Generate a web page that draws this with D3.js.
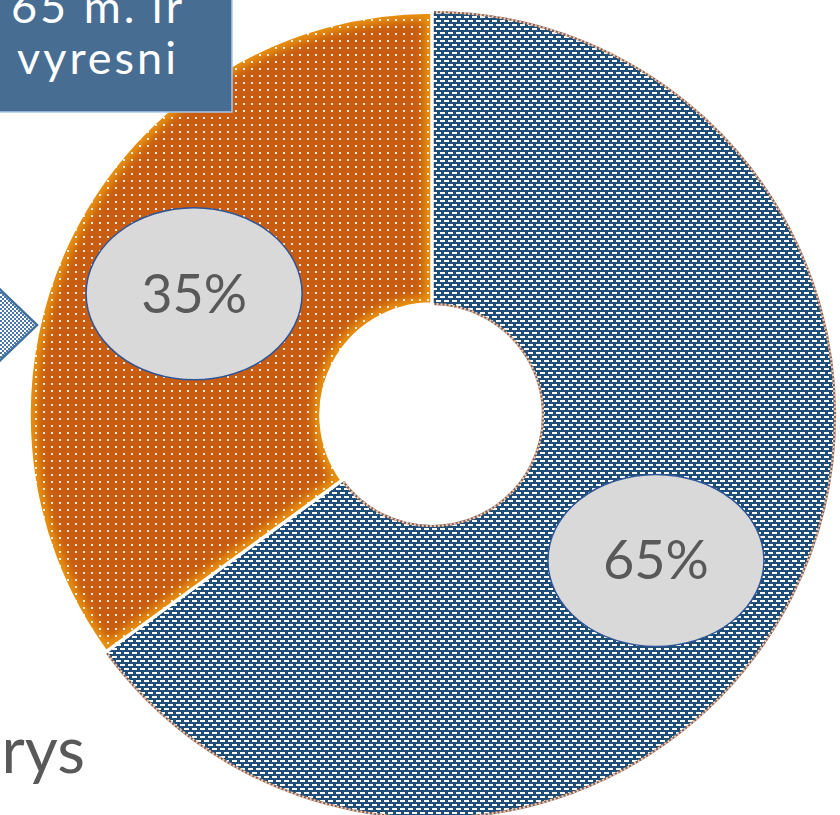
<!DOCTYPE html>
<html>
<head>
<meta charset="utf-8">
<script src="https://cdn.jsdelivr.net/npm/d3@7"></script>
<style>
  html, body { margin: 0; padding: 0; background: #ffffff; }
  svg { display: block; }
</style>
</head>
<body>
<svg id="chart" width="840" height="815"></svg>
<script>
// Age-group shares
const categories = ["65 m. ir vyresni", "Kiti"];
const shares = [65, 35];
const shareLabels = ["65%", "35%"];
const labelAngleShift = [6, 0]; // degrees, nudges a label along its ring

const calloutLines = ["65 m. ir", "vyresni"];
const footerText = "rys";

const W = 840, H = 815;
const cx = 432, cy = 415;
const outerR = 403, innerR = 111, labelR = 267;

const svg = d3.select("#chart");
const defs = svg.append("defs");

// Fill patterns: brick-offset white dashes on navy
const pBlue = defs.append("pattern").attr("id", "pBlue")
  .attr("patternUnits", "userSpaceOnUse").attr("width", 8).attr("height", 8);
pBlue.append("rect").attr("width", 8).attr("height", 8).attr("fill", "#1f4e79");
pBlue.append("rect").attr("x", 0).attr("y", 1).attr("width", 5).attr("height", 2).attr("fill", "#ffffff");
pBlue.append("rect").attr("x", 4).attr("y", 5).attr("width", 4).attr("height", 2).attr("fill", "#ffffff");
pBlue.append("rect").attr("x", 0).attr("y", 5).attr("width", 1).attr("height", 2).attr("fill", "#ffffff");

const pDots = defs.append("pattern").attr("id", "pDots")
  .attr("patternUnits", "userSpaceOnUse").attr("width", 8).attr("height", 7);
pDots.append("rect").attr("x", 3).attr("y", 3).attr("width", 2).attr("height", 2)
  .attr("fill", "#ffffff").attr("opacity", 0.85);

const pCheck = defs.append("pattern").attr("id", "pCheck")
  .attr("patternUnits", "userSpaceOnUse").attr("width", 4).attr("height", 4);
pCheck.append("rect").attr("width", 4).attr("height", 4).attr("fill", "#ffffff");
pCheck.append("rect").attr("width", 2).attr("height", 2).attr("fill", "#4a78a8");
pCheck.append("rect").attr("x", 2).attr("y", 2).attr("width", 2).attr("height", 2).attr("fill", "#4a78a8");

const glow = defs.append("filter").attr("id", "glow")
  .attr("x", "-20%").attr("y", "-20%").attr("width", "140%").attr("height", "140%");
glow.append("feGaussianBlur").attr("stdDeviation", 4);

const pie = d3.pie().sort(null).value(d => d)
  .startAngle(0).endAngle(2 * Math.PI);
const arcs = pie(shares);
const arc = d3.arc().innerRadius(innerR).outerRadius(outerR);

const g = svg.append("g").attr("transform", `translate(${cx},${cy})`);

// Blue slice
g.append("path").attr("d", arc(arcs[0]))
  .attr("fill", "url(#pBlue)")
  .attr("stroke", "#7a6464").attr("stroke-width", 2.2);
g.append("path").attr("d", arc(arcs[0]))
  .attr("fill", "none")
  .attr("stroke", "#f8c8a8").attr("stroke-width", 2.2)
  .attr("stroke-dasharray", "2 2");

// Orange slice: dark core with lighter edges, dotted overlay
defs.append("clipPath").attr("id", "clipOrange")
  .append("path").attr("d", arc(arcs[1]));
const og = g.append("g").attr("clip-path", "url(#clipOrange)");
og.append("path").attr("d", arc(arcs[1])).attr("fill", "#c85d11");
og.append("path").attr("d", arc(arcs[1]))
  .attr("fill", "none").attr("stroke", "#e8920f").attr("stroke-width", 16)
  .attr("filter", "url(#glow)");
og.append("path").attr("d", arc(arcs[1])).attr("fill", "url(#pDots)");
g.append("path").attr("d", arc(arcs[1]))
  .attr("fill", "none").attr("stroke", "#ffffff").attr("stroke-width", 3.5)
  .attr("stroke-linejoin", "miter");

// Value labels in ellipses
const labelArc = d3.arc().innerRadius(labelR).outerRadius(labelR);
const lab = g.selectAll("g.lab").data(arcs).join("g").attr("class", "lab")
  .attr("transform", (d, i) => {
    const a = (d.startAngle + d.endAngle) / 2 + labelAngleShift[i] * Math.PI / 180;
    const [x, y] = labelArc.centroid({ startAngle: a, endAngle: a });
    return `translate(${x},${y})`;
  });
lab.append("ellipse").attr("rx", 108).attr("ry", 86)
  .attr("fill", "#d9d9d9").attr("stroke", "#2f5597").attr("stroke-width", 1.5);
lab.append("text").text((d, i) => shareLabels[i])
  .attr("text-anchor", "middle").attr("dy", "0.35em")
  .attr("font-family", "Lato, 'Noto Sans', sans-serif")
  .attr("font-size", 54).attr("fill", "#595959");

// Arrow tip at the left edge
svg.append("polygon")
  .attr("points", [[-12, 278], [37, 325], [-12, 372]].map(p => p.join(",")).join(" "))
  .attr("fill", "url(#pCheck)").attr("stroke", "#41719c").attr("stroke-width", 2.5);

// Callout box
svg.append("rect").attr("x", -4).attr("y", -4).attr("width", 236).attr("height", 116)
  .attr("fill", "#476d93").attr("stroke", "#a9c8e8").attr("stroke-width", 1.5);
svg.append("g").selectAll("text").data(calloutLines).join("text")
  .text(d => d)
  .attr("x", 98).attr("y", (d, i) => 23 + i * 51)
  .attr("text-anchor", "middle")
  .attr("font-family", "Lato, 'Noto Sans', sans-serif")
  .attr("font-size", 45).attr("letter-spacing", 3).attr("fill", "#ffffff");

// Trailing text fragment at the bottom-left
svg.append("text").text(footerText)
  .attr("x", 85).attr("y", 773).attr("text-anchor", "end")
  .attr("font-family", "Lato, 'Noto Sans', sans-serif")
  .attr("font-size", 64).attr("fill", "#595959");
</script>
</body>
</html>
